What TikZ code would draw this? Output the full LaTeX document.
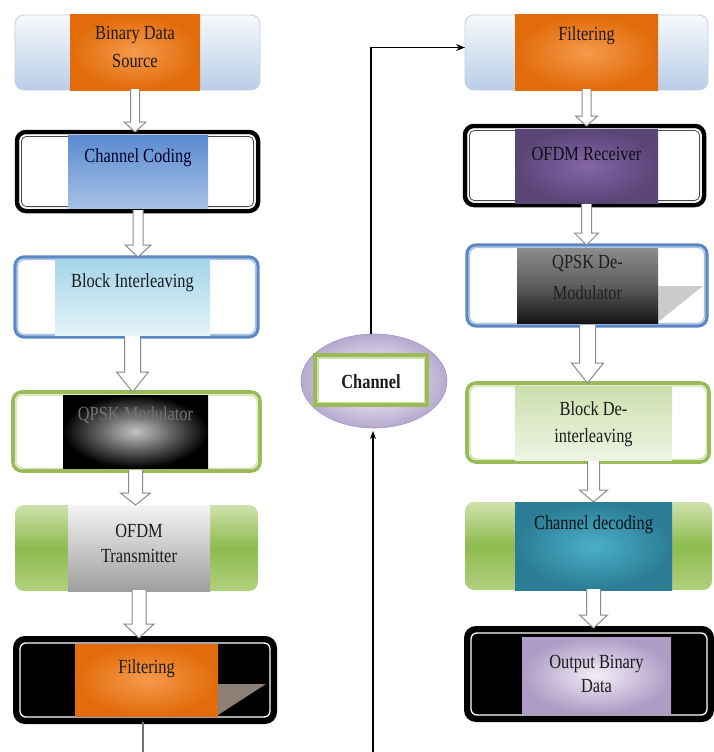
\documentclass[tikz,border=0pt]{standalone}
\usepackage{fontspec}
\setmainfont{Liberation Serif}
\usetikzlibrary{shapes.geometric,arrows.meta,calc}
\definecolor{orD}{HTML}{E26B0A}
\definecolor{orL}{HTML}{F59A4C}
\definecolor{abT}{HTML}{F7F9FC}
\definecolor{abB}{HTML}{B9CEE8}
\definecolor{abD}{HTML}{C5CFDC}
\definecolor{ccT}{HTML}{5A8AD0}
\definecolor{ccB}{HTML}{A7C1E4}
\definecolor{biT}{HTML}{A3D5E8}
\definecolor{biB}{HTML}{E4F3F8}
\definecolor{blB}{HTML}{5B87C5}
\definecolor{blL}{HTML}{A9C3E5}
\definecolor{grB}{HTML}{9BBB59}
\definecolor{grL}{HTML}{CFE0AA}
\definecolor{qmC}{HTML}{C4C4C4}
\definecolor{txT}{HTML}{F4F4F4}
\definecolor{txB}{HTML}{9E9E9E}
\definecolor{geT}{HTML}{D0E2AC}
\definecolor{geM}{HTML}{8DBB4E}
\definecolor{geB}{HTML}{B2D07E}
\definecolor{triA}{HTML}{8C7F76}
\definecolor{puL}{HTML}{8466A8}
\definecolor{puD}{HTML}{5B4577}
\definecolor{qdT}{HTML}{8C8C8C}
\definecolor{qdM}{HTML}{5E5E5E}
\definecolor{qdB}{HTML}{141414}
\definecolor{triB}{HTML}{CBCBCB}
\definecolor{bdT}{HTML}{CCDFAE}
\definecolor{bdB}{HTML}{EEF4E3}
\definecolor{teL}{HTML}{4BAFC9}
\definecolor{teD}{HTML}{2B7C94}
\definecolor{lvL}{HTML}{F2EEF7}
\definecolor{lvD}{HTML}{AE9CC6}
\definecolor{elO}{HTML}{B5A9CF}
\definecolor{elD}{HTML}{A198BE}
\definecolor{arG}{HTML}{8A8A8A}
\definecolor{txK}{HTML}{1C1C1C}
\newcommand\sqtext[1]{\scalebox{0.82}[1]{\begin{tabular}[t]{@{}c@{}}#1\end{tabular}}}
\newcommand\bnode[6]{%
  \pgfmathsetmacro\bnX{(#3+#5)/2}\pgfmathsetmacro\bnY{(#4+#6)/2}%
  \pgfmathsetmacro\bnW{#5-#3}\pgfmathsetmacro\bnH{#6-#4}%
  \node[#1, minimum width=\bnW pt, minimum height=\bnH pt] (#2) at (\bnX,\bnY) {};}
\newcommand\inl[5]{%
  \draw[#3, line width=#4, rounded corners=#5] ([shift={(#2,-#2)}]#1.north west) rectangle ([shift={(-#2,#2)}]#1.south east);}
\newcommand\harrow[6]{%
  \draw[hollowarrow] let \p1=(#1.center |- #2.south), \p2=(#1.center |- #3.north) in
    (\x1-#4pt,\y1+1pt) -- (\x1-#4pt,\y2+#6pt) -- (\x1-#5pt,\y2+#6pt) -- (\x1,\y2)
    -- (\x1+#5pt,\y2+#6pt) -- (\x1+#4pt,\y2+#6pt) -- (\x1+#4pt,\y1+1pt);}
\tikzset{
  base/.style={rectangle, outer sep=0pt, inner sep=0pt},
  boxA/.style={base, rounded corners=9pt, top color=abT, bottom color=abB, draw=abD, line width=0.8pt},
  boxB/.style={base, rounded corners=9pt, fill=white, draw=black, line width=4.5pt},
  boxC/.style={base, rounded corners=9pt, fill=white, draw=blB, line width=3.2pt},
  boxD/.style={base, rounded corners=9pt, fill=white, draw=grB, line width=3.6pt},
  boxE/.style={base, rounded corners=9pt, top color=geT, bottom color=geB, middle color=geM},
  boxF/.style={base, rounded corners=10pt, fill=black, draw=black, line width=4pt},
  inbox/.style={base},
  txt/.style={inner sep=0pt, outer sep=0pt, anchor=base, text=txK, font=\fontsize{20}{25}\selectfont},
  hollowarrow/.style={draw=arG, fill=white, line width=1pt, line join=miter},
  conn/.style={draw=black, line width=1.2pt},
}
\begin{document}
\begin{tikzpicture}[x=1pt, y=-1pt]
\fill[white] (0,0) rectangle (714,752);
\useasboundingbox (0,0) rectangle (714,752);

% ---------------- left column ----------------
\bnode{boxA}{o1}{15}{15}{260}{90}
\bnode{inbox, inner color=orL, outer color=orD}{t1}{70}{15}{200}{90}
\node[txt] (l1) at (t1.center |- 0,40) {\sqtext{Binary Data\\[3pt]Source}};

\bnode{boxB}{o2}{17}{132}{258}{211}
\inl{o2}{3.2pt}{white}{1.4pt}{6pt}
\inl{o2}{4.4pt}{black!70}{0.8pt}{5pt}
\bnode{inbox, top color=ccT, bottom color=ccB}{t2}{68}{135}{208}{208}
\node[txt, text=black!85!blue] (l2) at (t2.center |- 0,162) {\sqtext{Channel Coding}};

\bnode{boxC}{o3}{15}{257}{258}{337}
\inl{o3}{2.6pt}{blL}{1.2pt}{7pt}
\bnode{inbox, top color=biT, bottom color=biB}{t3}{55}{259}{210}{335}
\node[txt] (l3) at (t3.center |- 0,287) {\sqtext{Block Interleaving}};

\bnode{boxD}{o4}{13}{392}{260}{471}
\inl{o4}{2.9pt}{grL}{1.2pt}{7pt}
\bnode{inbox, inner color=qmC, outer color=black}{t4}{63}{395}{208}{468}
\node[txt, text=black!55] (l4) at (t4.center |- 0,420) {\sqtext{QPSK Modulator}};

\bnode{boxE}{o5}{15}{505}{258}{591}
\bnode{inbox, top color=txT, bottom color=txB}{t5}{68}{505}{210}{591}
\node[txt] (l5) at (t5.center |- 0,537) {\sqtext{OFDM\\Transmitter}};

\bnode{boxF}{o6}{15}{638}{275}{722}
\inl{o6}{5pt}{white}{1.3pt}{6pt}
\bnode{inbox, inner color=orL, outer color=orD}{t6}{75}{644}{218}{716}
\fill[triA] (218,684) -- (266,684) -- (218,715) -- cycle;
\node[txt] (l6) at (t6.center |- 0,673) {\sqtext{Filtering}};

% ---------------- right column ----------------
\bnode{boxA}{p1}{465}{15}{708}{90}
\bnode{inbox, inner color=orL, outer color=orD}{s1}{515}{15}{658}{90}
\node[txt] (r1) at (s1.center |- 0,41) {\sqtext{Filtering}};

\bnode{boxB}{p2}{465}{126}{704}{205}
\inl{p2}{3.2pt}{white}{1.4pt}{6pt}
\inl{p2}{4.4pt}{black!70}{0.8pt}{5pt}
\bnode{inbox, inner color=puL, outer color=puD}{s2}{515}{129}{658}{203}
\node[txt, text=black!80!puD] (r2) at (s2.center |- 0,160) {\sqtext{OFDM Receiver}};

\bnode{boxC}{p3}{467}{245}{707}{326}
\inl{p3}{2.6pt}{blL}{1.2pt}{7pt}
\fill[triB] (658,286) -- (703,286) -- (658,322) -- cycle;
\bnode{inbox, top color=qdT, bottom color=qdB, middle color=qdM}{s3}{517}{248}{658}{323}
\node[txt, text=black!88] (r3) at (s3.center |- 0,268) {\sqtext{QPSK De-\\[6pt]Modulator}};

\bnode{boxD}{p4}{467}{383}{709}{462}
\inl{p4}{2.9pt}{grL}{1.2pt}{7pt}
\bnode{inbox, top color=bdT, bottom color=bdB}{s4}{515}{386}{672}{460}
\node[txt] (r4) at (s4.center |- 0,415) {\sqtext{Block De-\\[2pt]interleaving}};

\bnode{boxE}{p5}{465}{502}{712}{590}
\bnode{inbox, inner color=teL, outer color=teD}{s5}{515}{502}{672}{590}
\node[txt, text=black!85!teD] (r5) at (s5.center |- 0,529) {\sqtext{Channel decoding}};

\bnode{boxF}{p6}{466}{628}{712}{720}
\inl{p6}{5pt}{white}{1.3pt}{6pt}
\bnode{inbox, inner color=lvL, outer color=lvD}{s6}{522}{637}{671}{713}
\node[txt] (r6) at (s6.center |- 0,668) {\sqtext{Output Binary\\[-1pt]Data}};

% ---------------- channel ----------------
\node[ellipse, outer sep=0pt, inner sep=0pt, minimum width=146pt, minimum height=94pt,
      inner color=white, outer color=elO, draw=elD, line width=0.6pt] (ch) at (374,381) {};
\bnode{base, fill=white, draw=grB, line width=3.6pt}{chr}{315}{355}{427}{405}
\inl{chr}{2.9pt}{grL}{1.2pt}{0pt}
\node[txt, font=\fontsize{20}{25}\selectfont\bfseries] (chl) at (chr.center |- 0,388) {\sqtext{Channel}};

% ---------------- hollow arrows ----------------
\harrow{t1}{o1}{o2}{4.5}{11}{10}
\harrow{t2}{o2}{o3}{5}{13}{12}
\harrow{t3}{o3}{o4}{8}{16}{20}
\harrow{t4}{o4}{o5}{7}{15}{12}
\harrow{t5}{o5}{o6}{7}{15}{14}
\harrow{s1}{p1}{p2}{4.5}{11}{10}
\harrow{s2}{p2}{p3}{5}{12}{12}
\harrow{s3}{p3}{p4}{8}{16}{20}
\harrow{s4}{p4}{p5}{6}{14}{12}
\harrow{s5}{p5}{p6}{7}{14}{13}

% ---------------- connectors ----------------
\coordinate (lb) at (143,752);
\coordinate (cb) at (373,752);
\draw[conn, draw=black!55] (lb |- o6.south) -- (lb);
\draw[conn, -{Stealth[length=9pt,width=7pt]}] (ch.north -| chr.center) |- ([yshift=5pt]p1.west);
\draw[conn, -{Stealth[length=8pt,width=6pt]}] (cb) -- ([yshift=-3pt]cb |- ch.south);
\end{tikzpicture}
\end{document}
